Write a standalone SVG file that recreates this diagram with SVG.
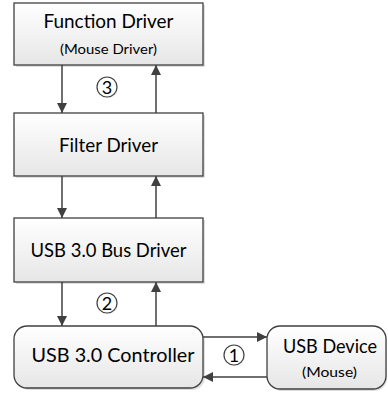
<svg xmlns="http://www.w3.org/2000/svg" width="388" height="394" viewBox="0 0 388 394">
<defs>
<linearGradient id="g" x1="0" y1="0" x2="0" y2="1">
<stop offset="0" stop-color="#ffffff"/>
<stop offset="1" stop-color="#e6e6e6"/>
</linearGradient>
<marker id="ah" viewBox="0 0 10 10" refX="10" refY="5" markerWidth="10" markerHeight="10" markerUnits="userSpaceOnUse" orient="auto">
<path d="M0,0 L10,5 L0,10 z" fill="#404040"/>
</marker>
</defs>
<style>
.box{fill:url(#g);stroke:#404040;stroke-width:1.3}
.sh{fill:#c8c8c8;opacity:0.6}
.t{font-family:Lato,"Open Sans","Liberation Sans",sans-serif;fill:#000;text-anchor:middle}
.big{font-size:18.5px}
.sm{font-size:13.5px}
.c{fill:#fff;stroke:#404040;stroke-width:1.2}
.num{font-family:Lato,"Open Sans","Liberation Sans",sans-serif;font-size:18px;text-anchor:middle}
.ln{stroke:#404040;stroke-width:1.5;fill:none;marker-end:url(#ah)}
</style>
<g id="function-driver">
<rect class="sh" x="16" y="5" width="189" height="62"/>
<rect class="box" x="14" y="3" width="189" height="62"/>
<text class="t big" x="108.5" y="28" textLength="130" lengthAdjust="spacingAndGlyphs">Function Driver</text>
<text class="t sm" x="108.5" y="54" textLength="97" lengthAdjust="spacingAndGlyphs">(Mouse Driver)</text>
</g>
<g id="filter-driver">
<rect class="sh" x="16" y="115" width="189" height="63"/>
<rect class="box" x="14" y="113" width="189" height="63"/>
<text class="t big" x="108.5" y="152" textLength="99" lengthAdjust="spacingAndGlyphs">Filter Driver</text>
</g>
<g id="bus-driver">
<rect class="sh" x="16" y="220" width="189" height="64"/>
<rect class="box" x="14" y="218" width="189" height="64"/>
<text class="t big" x="108.5" y="257" textLength="156" lengthAdjust="spacingAndGlyphs">USB 3.0 Bus Driver</text>
</g>
<g id="controller">
<rect class="sh" x="16" y="328" width="189" height="62" rx="13"/>
<rect class="box" x="14" y="326" width="189" height="62" rx="13"/>
<text class="t big" x="113" y="362" textLength="163" lengthAdjust="spacingAndGlyphs">USB 3.0 Controller</text>
</g>
<g id="usb-device">
<rect class="sh" x="269" y="328" width="118" height="63" rx="13"/>
<rect class="box" x="267" y="326" width="119" height="63" rx="13"/>
<text class="t big" x="330" y="353" textLength="94" lengthAdjust="spacingAndGlyphs">USB Device</text>
<text class="t sm" x="329.5" y="377" textLength="55" lengthAdjust="spacingAndGlyphs">(Mouse)</text>
</g>
<g id="connectors">
<line class="ln" x1="62" y1="65" x2="62" y2="113"/>
<line class="ln" x1="156" y1="113" x2="156" y2="65"/>
<line class="ln" x1="62" y1="176" x2="62" y2="218"/>
<line class="ln" x1="156" y1="218" x2="156" y2="176"/>
<line class="ln" x1="62" y1="282" x2="62" y2="326"/>
<line class="ln" x1="156" y1="326" x2="156" y2="282"/>
<line class="ln" x1="203" y1="337" x2="267" y2="337"/>
<line class="ln" x1="267" y1="377" x2="203" y2="377"/>
</g>
<g id="labels">
<circle cx="108" cy="88" r="10" fill="#ccc" opacity="0.5"/>
<circle class="c" cx="107" cy="87" r="10"/>
<text class="num" x="107" y="93.5">3</text>
<circle cx="108" cy="304" r="10" fill="#ccc" opacity="0.5"/>
<circle class="c" cx="107" cy="303" r="10"/>
<text class="num" x="107" y="309.5">2</text>
<circle cx="235" cy="356" r="10" fill="#ccc" opacity="0.5"/>
<circle class="c" cx="234" cy="355" r="10"/>
<text class="num" x="234" y="361.5">1</text>
</g>
</svg>
